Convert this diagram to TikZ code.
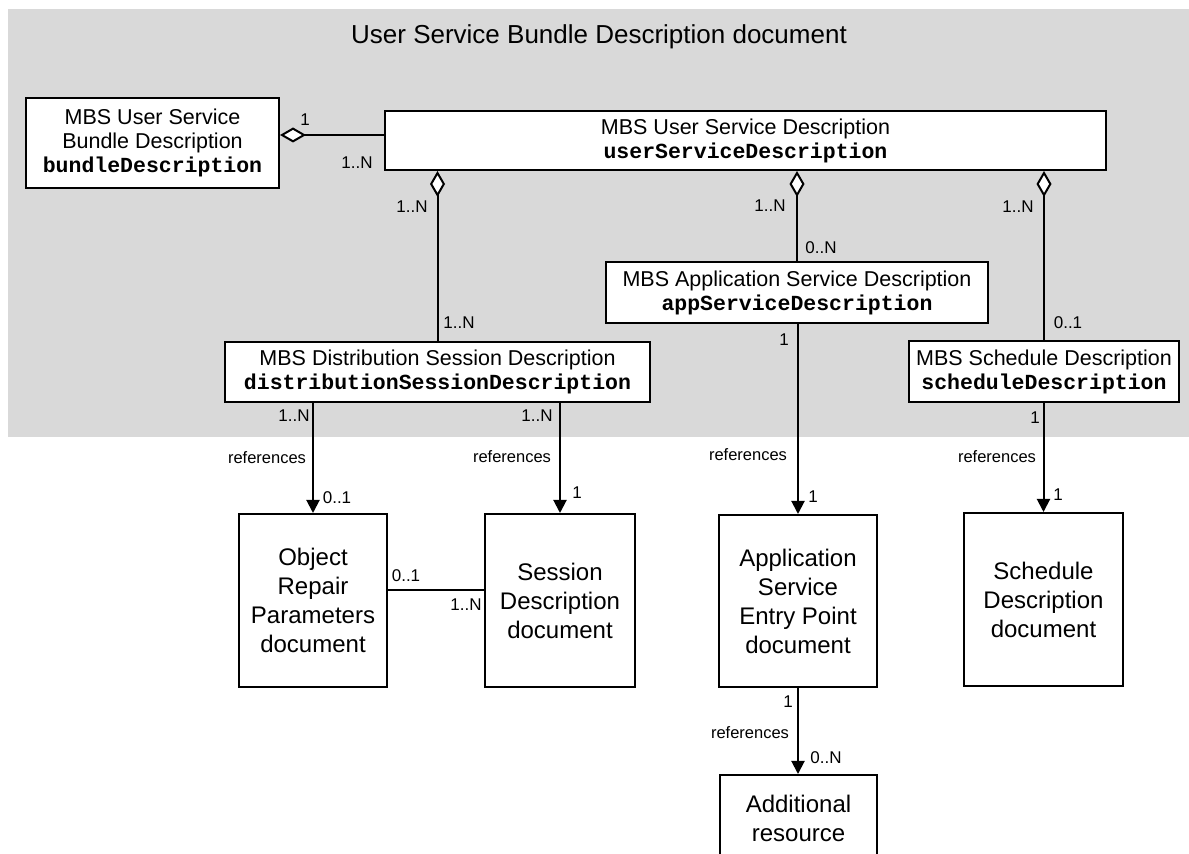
\documentclass[tikz,border=0pt]{standalone}
\usepackage{fontspec}
\setmainfont{Liberation Sans}
\setmonofont{Liberation Mono}
\usetikzlibrary{arrows.meta}

\tikzset{
    descbox/.style={draw, line width=1pt, fill=white, align=center, inner sep=0pt, font=\fontsize{10.75pt}{12pt}\selectfont},
    docbox/.style={draw, line width=1pt, fill=white, align=center, inner sep=0pt, font=\fontsize{12pt}{14.5pt}\selectfont},
    mult/.style={inner sep=0pt, font=\fontsize{8.5pt}{10pt}\selectfont},
    reflabel/.style={inner sep=0pt, font=\fontsize{8.25pt}{10pt}\selectfont},
    agg/.style={line width=1pt, {Diamond[fill=white,length=13pt,width=7.5pt]}-},
    refarrow/.style={line width=1pt, -{Triangle[length=6.5pt,width=6.5pt]}},
    assoc/.style={line width=1pt}
}
\newcommand{\elemname}[1]{\texttt{\bfseries #1}}

\begin{document}
\begin{tikzpicture}[x=0.5pt, y=-0.5pt]
        \useasboundingbox (0,0) rectangle (1189,854);
        \fill[gray!30] (8,9) rectangle (1189,437);
        \node[font=\fontsize{13pt}{15pt}\selectfont] (title) at (599,37) {User Service Bundle Description document};

        \node[descbox, minimum width=126.5pt, minimum height=45pt] (bundle) at (152.5,143) {MBS User Service\\Bundle Description\\\elemname{bundleDescription}};
        \node[descbox, minimum width=360.5pt, minimum height=29.5pt] (usd) at (745.5,140.5) {MBS User Service Description\\\elemname{userServiceDescription}};
        \node[descbox, minimum width=212.5pt, minimum height=30pt] (dsd) at (437.5,372) {MBS Distribution Session Description\\\elemname{distributionSessionDescription}};
        \node[descbox, minimum width=191pt, minimum height=30.5pt] (asd) at (797,292.5) {MBS Application Service Description\\\elemname{appServiceDescription}};
        \node[descbox, minimum width=135pt, minimum height=30.5pt] (sched) at (1044,371.5) {MBS Schedule Description\\\elemname{scheduleDescription}};

        \node[docbox, minimum width=74pt, minimum height=86.5pt] (orp) at (313,600.5) {Object\\Repair\\Parameters\\document};
        \node[docbox, minimum width=75pt, minimum height=86.5pt] (sdd) at (560,600.5) {Session\\Description\\document};
        \node[docbox, minimum width=79pt, minimum height=86pt] (asep) at (798,601) {Application\\Service\\Entry Point\\document};
        \node[docbox, minimum width=79.5pt, minimum height=86.5pt] (schd) at (1043.5,599.5) {Schedule\\Description\\document};
        \node[docbox, minimum width=78.5pt, minimum height=43pt] (addr) at (798.5,818) {Additional\\resource};

        % aggregation inside the bundle document
        \draw[agg] ([yshift=4pt]bundle.east) -- ([yshift=4pt]bundle.east -| usd.west);
        \draw[agg] (usd.south -| dsd.north) -- (dsd.north);
        \draw[agg] (usd.south -| asd.north) -- (asd.north);
        \draw[agg] (usd.south -| sched.north) -- (sched.north);

        % references to other documents
        \draw[refarrow] (dsd.south -| orp.north) -- (orp.north);
        \draw[refarrow] (dsd.south -| sdd.north) -- (sdd.north);
        \draw[refarrow] (asd.south -| asep.north) -- (asep.north);
        \draw[refarrow] (sched.south -| schd.north) -- (schd.north);
        \draw[refarrow] (asep.south) -- (asep.south |- addr.north);
        \draw[assoc] ([yshift=5pt]orp.east) -- ([yshift=5pt]orp.east -| sdd.west);

        \node[mult] (b1) at (305,120) {1};
        \node[mult] (b2) at (357,163) {1..N};
        \node[mult] (d1) at (412,207) {1..N};
        \node[mult] (d2) at (459,323) {1..N};
        \node[mult] (a1) at (770,206) {1..N};
        \node[mult] (a2) at (821,248) {0..N};
        \node[mult] (s1) at (1018,207) {1..N};
        \node[mult] (s2) at (1068,323) {0..1};
        \node[mult] (d3) at (294,416) {1..N};
        \node[mult] (d4) at (537,416) {1..N};
        \node[mult] (a3) at (784,340) {1};
        \node[mult] (s3) at (1035,418) {1};

        \node[reflabel] (r1) at (267,458) {references};
        \node[reflabel] (r2) at (512,457) {references};
        \node[reflabel] (r3) at (748,455) {references};
        \node[reflabel] (r4) at (997,457) {references};
        \node[reflabel] (r5) at (750,733) {references};

        \node[mult] (o1) at (337,498) {0..1};
        \node[mult] (e1) at (577,493) {1};
        \node[mult] (p1) at (813,497) {1};
        \node[mult] (h1) at (1058,495) {1};
        \node[mult] (o2) at (406,576) {0..1};
        \node[mult] (e2) at (466,605) {1..N};
        \node[mult] (p2) at (788,702) {1};
        \node[mult] (x1) at (826,758) {0..N};
    \end{tikzpicture}
\end{document}
